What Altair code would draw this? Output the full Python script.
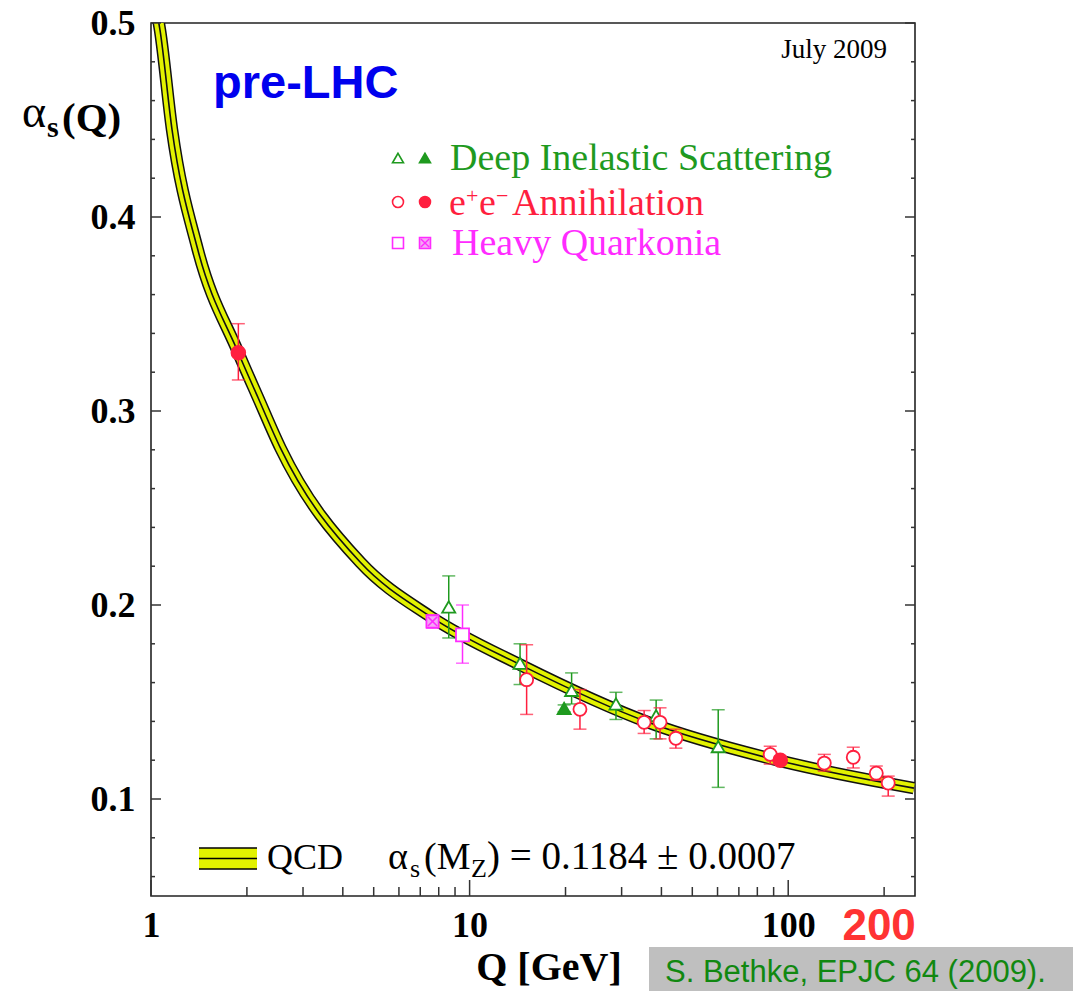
import altair as alt
import pandas as pd

# ---------------- data ----------------
qcd_Q = [1.045, 1.067, 1.164, 1.40, 1.877, 2.17, 2.547, 4.54, 7.54, 14.5, 37.1, 95.1, 248]
qcd_a = [0.505, 0.4964, 0.4451, 0.3836, 0.3303, 0.3067, 0.281, 0.222, 0.194, 0.169, 0.139, 0.1195, 0.1056]

dis_open_Q = [8.6, 14.4, 20.9, 28.8, 38.5, 60.3]
dis_open_a = [0.199, 0.170, 0.156, 0.149, 0.143, 0.127]
dis_open_lo = [0.183, 0.159, 0.149, 0.141, 0.131, 0.106]
dis_open_hi = [0.215, 0.180, 0.165, 0.155, 0.151, 0.146]

dis_full_Q = [19.8]
dis_full_a = [0.1467]
dis_full_lo = [0.145]
dis_full_hi = [0.1485]

ee_open_Q = [15.1, 22.2, 35.3, 39.6, 44.4, 87.8, 129.8, 160, 189, 206]
ee_open_a = [0.1615, 0.1462, 0.1395, 0.1395, 0.1313, 0.123, 0.1185, 0.1215, 0.1133, 0.1082]
ee_open_lo = [0.1436, 0.136, 0.1338, 0.131, 0.1262, 0.118, 0.1144, 0.116, 0.1097, 0.1015]
ee_open_hi = [0.1795, 0.1564, 0.1456, 0.147, 0.136, 0.1272, 0.123, 0.1267, 0.117, 0.1118]

ee_full_Q = [1.88, 94.4]
ee_full_a = [0.330, 0.120]
ee_full_lo = [0.316, 0.118]
ee_full_hi = [0.345, 0.122]

hq_open_Q = [9.5]
hq_open_a = [0.1846]
hq_open_lo = [0.170]
hq_open_hi = [0.200]

hq_cross_Q = [7.65]
hq_cross_a = [0.1915]
hq_cross_lo = [0.188]
hq_cross_hi = [0.195]

y_major = [0.1, 0.2, 0.3, 0.4, 0.5]
y_minor = [0.06, 0.08, 0.12, 0.14, 0.16, 0.18, 0.22, 0.24, 0.26, 0.28,
           0.32, 0.34, 0.36, 0.38, 0.42, 0.44, 0.46, 0.48]
x_major = [1, 10, 100]
x_minor = [2, 3, 4, 5, 6, 7, 8, 9, 20, 30, 40, 50, 60, 70, 80, 90, 200]

# ---------------- styling ----------------
W, H = 764, 873
SERIF = "Liberation Serif"
SANS = "Liberation Sans"
GREEN = "#1f9a1f"
RED = "#ff1f3f"
MAG = "#ff2bff"
YEL = "#e2f200"

xs = alt.Scale(type="log", domain=[1, 250], nice=False)
ys = alt.Scale(domain=[0.05, 0.5], nice=False, zero=False)

xaxis = alt.Axis(values=x_major, format="d", ticks=False, tickSize=0, domain=False, grid=False,
                 labelFont=SERIF, labelFontWeight="bold", labelFontSize=36, labelColor="black",
                 labelPadding=12, labelFlush=False, title=None)
yaxis = alt.Axis(values=y_major, format=".1f", ticks=False, tickSize=0, domain=False, grid=False,
                 labelFont=SERIF, labelFontWeight="bold", labelFontSize=36, labelColor="black",
                 labelPadding=16, title=None)


def X(f="Q"):
    return alt.X(f"{f}:Q", scale=xs, axis=xaxis)


def Y(f="a"):
    return alt.Y(f"{f}:Q", scale=ys, axis=yaxis)


one = pd.DataFrame({"k": [0]})

# ---------------- QCD band ----------------
qcd = pd.DataFrame({"Q": qcd_Q, "a": qcd_a})
band_outer = alt.Chart(qcd).mark_line(color="#111111", strokeWidth=12.5, interpolate="monotone", clip=True).encode(x=X(), y=Y())
band_fill = alt.Chart(qcd).mark_line(color=YEL, strokeWidth=9.5, interpolate="monotone", clip=True).encode(x=X(), y=Y())
band_center = alt.Chart(qcd).mark_line(color="#111111", strokeWidth=1.6, interpolate="monotone", clip=True).encode(x=X(), y=Y())


def series(Q, a, lo, hi, color, shape, fill, size=160, cross=False):
    df = pd.DataFrame({"Q": Q, "a": a, "lo": lo, "hi": hi})
    bar = alt.Chart(df).mark_rule(color=color, strokeWidth=1.5).encode(x=X(), y=Y("lo"), y2="hi")
    cap_lo = alt.Chart(df).mark_tick(color=color, orient="horizontal", size=13, thickness=1.5).encode(x=X(), y=Y("lo"))
    cap_hi = alt.Chart(df).mark_tick(color=color, orient="horizontal", size=13, thickness=1.5).encode(x=X(), y=Y("hi"))
    pt = alt.Chart(df).mark_point(shape=shape, filled=True, fill=fill, stroke=color, strokeWidth=1.8,
                                  size=size, opacity=1).encode(x=X(), y=Y())
    layers = [bar, cap_lo, cap_hi, pt]
    if cross:
        layers.append(alt.Chart(df).mark_point(shape="M-0.75,-0.75L0.75,0.75M-0.75,0.75L0.75,-0.75",
                                               filled=False, stroke=color, strokeWidth=1.5, size=size,
                                               opacity=1).encode(x=X(), y=Y()))
    return layers


pts = []
pts += series(hq_cross_Q, hq_cross_a, hq_cross_lo, hq_cross_hi, MAG, "square", "#f4a8f4", 150, cross=True)
pts += series(dis_open_Q, dis_open_a, dis_open_lo, dis_open_hi, GREEN, "triangle-up", "white", 170)
pts += series(hq_open_Q, hq_open_a, hq_open_lo, hq_open_hi, MAG, "square", "white", 170)
pts += series(dis_full_Q, dis_full_a, dis_full_lo, dis_full_hi, GREEN, "triangle-up", GREEN, 170)
pts += series(ee_open_Q, ee_open_a, ee_open_lo, ee_open_hi, RED, "circle", "white", 170)
pts += series(ee_full_Q, ee_full_a, ee_full_lo, ee_full_hi, RED, "circle", RED, 190)

# ---------------- frame ticks (inward) ----------------
ymaj = pd.DataFrame({"a": y_major})
ymin = pd.DataFrame({"a": y_minor})
xmaj = pd.DataFrame({"Q": x_major})
xmin = pd.DataFrame({"Q": x_minor})
TK = "#333333"
ticks = [
    alt.Chart(ymaj).mark_rule(color=TK, strokeWidth=1.5).encode(y=Y(), x=alt.value(0), x2=alt.value(10)),
    alt.Chart(ymin).mark_rule(color=TK, strokeWidth=1.5).encode(y=Y(), x=alt.value(0), x2=alt.value(4)),
    alt.Chart(ymaj).mark_rule(color=TK, strokeWidth=1.5).encode(y=Y(), x=alt.value(W - 10), x2=alt.value(W)),
    alt.Chart(ymin).mark_rule(color=TK, strokeWidth=1.5).encode(y=Y(), x=alt.value(W - 4), x2=alt.value(W)),
    alt.Chart(xmaj).mark_rule(color=TK, strokeWidth=1.5).encode(x=X(), y=alt.value(H - 16), y2=alt.value(H)),
    alt.Chart(xmin).mark_rule(color=TK, strokeWidth=1.5).encode(x=X(), y=alt.value(H - 9), y2=alt.value(H)),
]


# ---------------- annotations ----------------
def txt(s, x, y, size, font=SERIF, weight="normal", color="black", align="left"):
    return alt.Chart(one).mark_text(text=s, font=font, fontSize=size, fontWeight=weight, color=color,
                                    align=align, baseline="alphabetic").encode(x=alt.value(x), y=alt.value(y))


def sym(shape, x, y, color, fill, size=120):
    return alt.Chart(one).mark_point(shape=shape, filled=True, fill=fill, stroke=color, strokeWidth=1.6,
                                     size=size, opacity=1).encode(x=alt.value(x), y=alt.value(y))


ann = [
    txt("pre-LHC", 62, 75, 47, font=SANS, weight="bold", color="#0000ee"),
    txt("July 2009", 736, 35, 27, align="right"),
    # top legend
    sym("triangle-up", 247, 135, GREEN, "white"), sym("triangle-up", 274, 135, GREEN, GREEN),
    txt("Deep Inelastic Scattering", 299, 147, 38, color=GREEN),
    sym("circle", 247, 179, RED, "white"), sym("circle", 274, 179, RED, RED),
    txt("e", 298, 192, 38, color=RED), txt("+", 315, 180, 22, color=RED),
    txt("e", 328, 192, 38, color=RED), txt("\u2212", 345, 180, 22, color=RED),
    txt("Annihilation", 361, 192, 38, color=RED),
    sym("square", 247, 220, MAG, "white"), sym("square", 274, 220, MAG, "#f4a8f4"),
    alt.Chart(one).mark_point(shape="M-0.75,-0.75L0.75,0.75M-0.75,0.75L0.75,-0.75", filled=False,
                              stroke=MAG, strokeWidth=1.4, size=120, opacity=1).encode(x=alt.value(274), y=alt.value(220)),
    txt("Heavy Quarkonia", 301, 232, 38, color=MAG),
    # bottom legend
    alt.Chart(one).mark_rect(color=YEL).encode(x=alt.value(48), x2=alt.value(106), y=alt.value(825), y2=alt.value(846)),
    alt.Chart(one).mark_rule(color="black", strokeWidth=1.6).encode(x=alt.value(48), x2=alt.value(106), y=alt.value(825)),
    alt.Chart(one).mark_rule(color="black", strokeWidth=1.6).encode(x=alt.value(48), x2=alt.value(106), y=alt.value(835.5)),
    alt.Chart(one).mark_rule(color="black", strokeWidth=1.6).encode(x=alt.value(48), x2=alt.value(106), y=alt.value(846)),
    txt("QCD", 116, 846, 36),
    txt("\u03b1", 237, 846, 38), txt("s", 259, 854, 26),
    txt("(M", 273, 846, 38), txt("Z", 320, 854, 26),
    txt(") = 0.1184 \u00b1 0.0007", 336, 846, 39),
    # y title
    txt("\u03b1", -129, 104, 46), txt("s", -104, 114, 30, weight="bold"),
    txt("(Q)", -89, 108, 41, weight="bold"),
    # x title and extras
    txt("Q [GeV]", 398, 957, 40, weight="bold", align="center"),
    alt.Chart(pd.DataFrame({"Q": [200]})).mark_text(text="200", font=SANS, fontSize=44, fontWeight="bold",
                                                    color="#ff3333", align="center", baseline="alphabetic",
                                                    dx=-5).encode(x=X(), y=alt.value(917)),
    alt.Chart(one).mark_rect(color="#bfbfbf").encode(x=alt.value(498), x2=alt.value(922), y=alt.value(924), y2=alt.value(968)),
    txt("S. Bethke, EPJC 64 (2009).", 514, 959, 31, font=SANS, color="#118811"),
]

chart = alt.layer(band_outer, band_fill, band_center, *ticks, *pts, *ann).properties(
    width=W, height=H,
    autosize=alt.AutoSizeParams(type="none"),
    padding={"left": 151, "top": 23, "right": 158, "bottom": 95},
    background="white",
).configure_view(stroke="#222222", strokeWidth=1.6)

chart.save("out.html", embed_options={"renderer": "svg", "actions": False})
